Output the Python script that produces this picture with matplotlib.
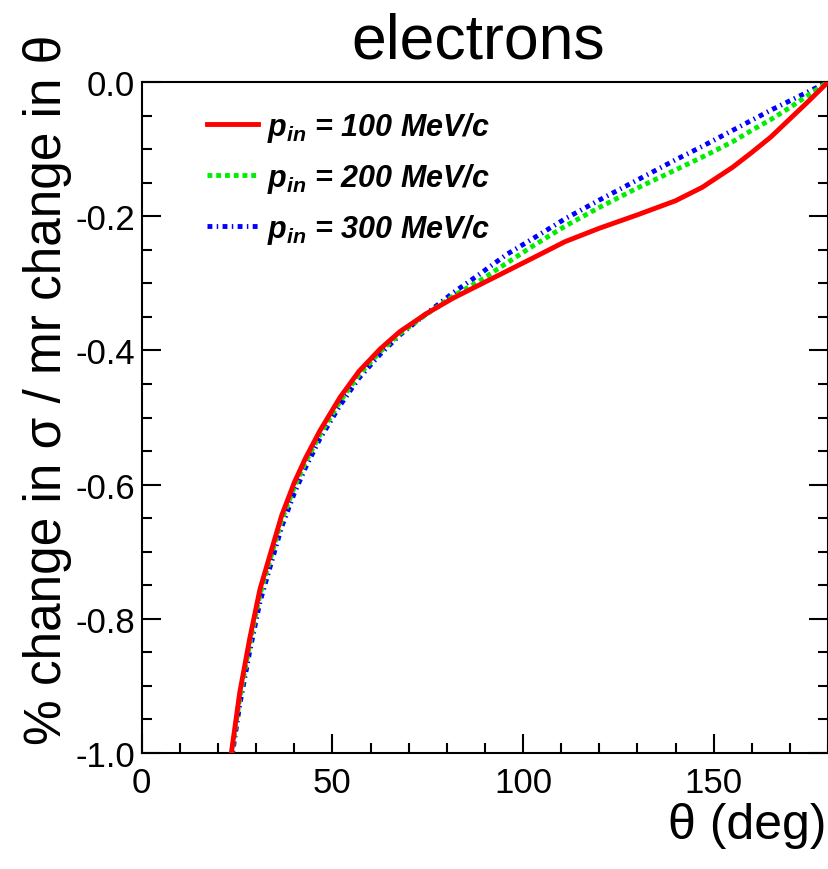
import numpy as np
import matplotlib
matplotlib.use("Agg")
import matplotlib.pyplot as plt
from matplotlib.ticker import MultipleLocator, FormatStrFormatter

plt.rcParams['font.family'] = ['Liberation Sans', 'DejaVu Sans']
plt.rcParams['axes.unicode_minus'] = False
plt.rcParams['mathtext.fontset'] = 'custom'
plt.rcParams['mathtext.it'] = 'Liberation Sans:italic:bold'
plt.rcParams['mathtext.rm'] = 'Liberation Sans:italic:bold'

# theta grid (deg) shared by the three curves
theta = [23.5, 25.7, 28.3, 31, 34, 36.7, 40, 43, 46.7, 52, 57, 62.5, 67.7, 74.7,
         81.7, 88.7, 95.7, 102.7, 111, 120, 130, 140, 147, 155, 160, 165, 170,
         175, 180]

# % change in sigma per mr change in theta
p100 = [-1.000, -0.910, -0.830, -0.756, -0.698, -0.646, -0.597, -0.560, -0.520,
        -0.470, -0.431, -0.398, -0.372, -0.345, -0.322, -0.302, -0.282, -0.262,
        -0.238, -0.218, -0.198, -0.177, -0.157, -0.127, -0.105, -0.082, -0.055,
        -0.028, 0.0]
p200 = [-1.004, -0.918, -0.838, -0.764, -0.705, -0.653, -0.604, -0.566, -0.526,
        -0.476, -0.436, -0.402, -0.375, -0.346, -0.319, -0.296, -0.270, -0.244,
        -0.215, -0.187, -0.158, -0.131, -0.112, -0.089, -0.072, -0.056, -0.038,
        -0.019, 0.0]
p300 = [-1.012, -0.928, -0.849, -0.775, -0.716, -0.663, -0.613, -0.574, -0.532,
        -0.482, -0.441, -0.406, -0.377, -0.345, -0.314, -0.286, -0.257, -0.233,
        -0.204, -0.176, -0.146, -0.116, -0.096, -0.072, -0.057, -0.042, -0.028,
        -0.014, 0.0]

labels = [r"$p_{in}$ = 100 MeV/c", r"$p_{in}$ = 200 MeV/c", r"$p_{in}$ = 300 MeV/c"]

fig = plt.figure(figsize=(8.29, 8.7), dpi=100)
ax = fig.add_axes([0.171, 0.1333, 0.8278, 0.7713])

lw = 3.5
l3, = ax.plot(theta, p300, color='#0000ff', lw=lw, dashes=(1.0, 0.9, 0.3, 0.9), zorder=2)
l2, = ax.plot(theta, p200, color='#00ee00', lw=lw, dashes=(1.0, 0.8), zorder=3)
l1, = ax.plot(theta, p100, color='#ff0000', lw=lw, zorder=4)

ax.set_xlim(0, 180)
ax.set_ylim(-1.0, 0.0)

ax.xaxis.set_major_locator(MultipleLocator(50))
ax.xaxis.set_minor_locator(MultipleLocator(10))
ax.yaxis.set_major_locator(MultipleLocator(0.2))
ax.yaxis.set_minor_locator(MultipleLocator(0.05))
ax.yaxis.set_major_formatter(FormatStrFormatter('%.1f'))

ax.tick_params(which='both', direction='in', right=True, top=False, width=1.5,
               labelsize=25)
ax.tick_params(which='major', length=14)
ax.tick_params(which='minor', length=7.5)
ax.tick_params(axis='x', pad=9)
ax.tick_params(axis='y', pad=5)
for s in ax.spines.values():
    s.set_linewidth(1.5)

fig.text(0.577, 0.9333, "electrons", fontsize=45, ha='center', va='baseline')
fig.text(0.057, 0.552, "% change in σ / mr change in θ", fontsize=37, rotation=90,
         ha='center', va='center')
fig.text(0.997, 0.051, "θ (deg)", fontsize=36, ha='right', va='center')

leg = ax.legend([l1, l2, l3], labels, loc='upper left', bbox_to_anchor=(0.0948, 0.958),
                frameon=False, borderpad=0, borderaxespad=0, handlelength=1.67,
                handletextpad=0.3, labelspacing=0.55,
                prop={'family': 'Liberation Sans', 'weight': 'bold', 'style': 'italic',
                      'size': 22})

fig.savefig("out.png", dpi=100)
